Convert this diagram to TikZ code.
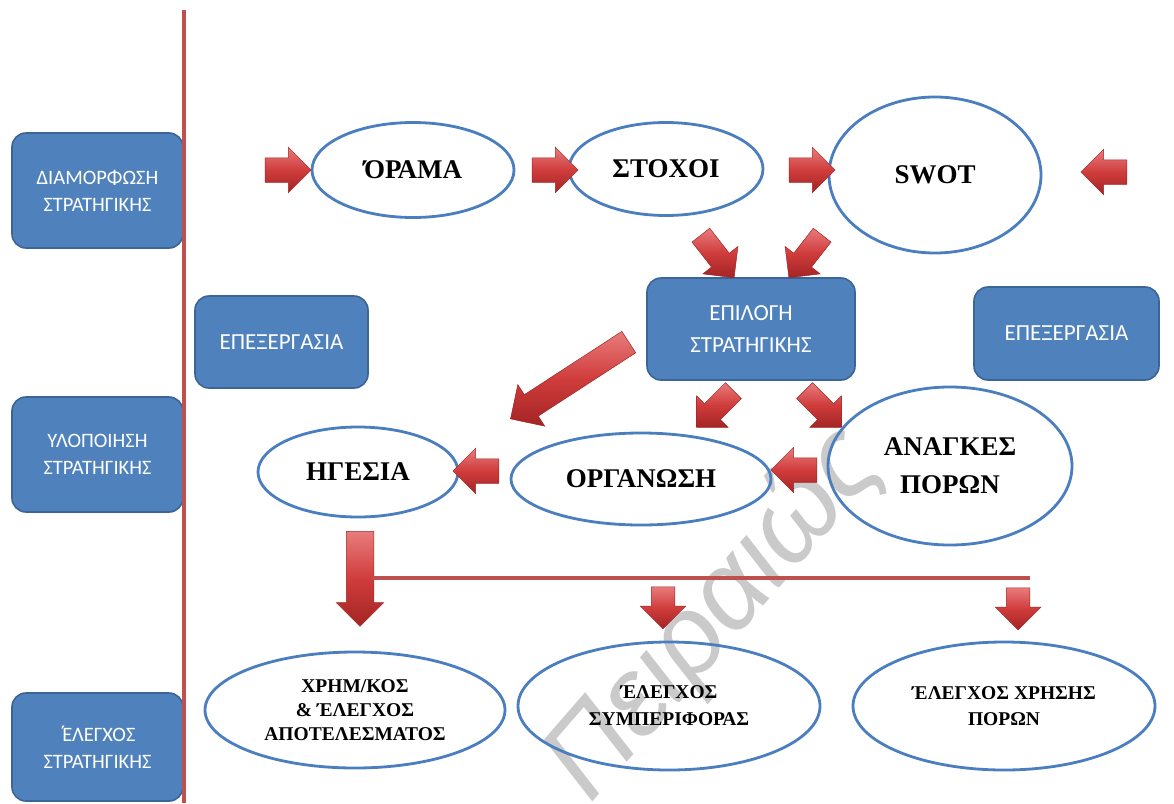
\documentclass[tikz,border=0pt]{standalone}
\usepackage{fontspec}
\setmainfont{Liberation Serif}
\newfontfamily\boxfont{Carlito}
\newfontfamily\tonosfont{Liberation Sans}
\usetikzlibrary{shapes.arrows,shapes.geometric}
\definecolor{boxblue}{HTML}{4F81BD}
\definecolor{boxedge}{HTML}{3B6497}
\definecolor{ellblue}{HTML}{4A7EBF}
\definecolor{redline}{HTML}{C0504D}
\definecolor{arrowhi}{HTML}{E87C7C}
\definecolor{arrowmid}{HTML}{D03C3C}
\definecolor{arrowlo}{HTML}{A32424}
\definecolor{wmgray}{HTML}{CACACA}
\begin{document}
\begin{tikzpicture}[x=1pt,y=-1pt,
  bluebox/.style={draw=boxedge, line width=1.6pt, fill=boxblue, rounded corners=14pt,
    text=white, align=center, inner sep=0pt},
  sidefont/.style={font=\boxfont\fontsize{20.5}{27}\selectfont},
  midfont/.style={font=\boxfont\fontsize{23}{32}\selectfont},
  oval/.style={ellipse, draw=ellblue, line width=2.8pt, inner sep=0pt, align=center},
  bigtext/.style={font=\bfseries\fontsize{27}{38}\selectfont},
  smalltext/.style={font=\bfseries\fontsize{19.5}{24}\selectfont},
  barrow/.style={single arrow, draw=arrowlo, line width=0.5pt, inner xsep=0pt,
    top color=arrowhi, bottom color=arrowlo, middle color=arrowmid},
  shortarrow/.style={barrow, minimum height=46pt, inner ysep=12pt, single arrow head extend=10.5pt},
  diagarrow/.style={barrow, minimum height=54pt, inner ysep=11pt, single arrow head extend=11pt},
  droparrow/.style={barrow, inner ysep=11.5pt, single arrow head extend=11pt},
  redrule/.style={draw=redline, line width=4.5pt},
  wm/.style={text=wmgray, font=\tonosfont\itshape\fontsize{112}{112}\selectfont, inner sep=0pt}
]
\useasboundingbox (0,0) rectangle (1174,803);

% watermark behind everything
\node[wm, rotate=49] (wm) at (715,615) {Πειραιώς};

% stage labels on the left
\node[bluebox, sidefont, minimum width=171pt, minimum height=115pt] (s1) at (97.5,190.5) {ΔΙΑΜΟΡΦΩΣΗ\\ΣΤΡΑΤΗΓΙΚΗΣ};
\node[bluebox, sidefont, minimum width=171pt, minimum height=115pt] (s2) at (97.5,454.5) {ΥΛΟΠΟΙΗΣΗ\\ΣΤΡΑΤΗΓΙΚΗΣ};
\node[bluebox, sidefont, minimum width=171pt, minimum height=108pt] (s3) at (97.5,747) {{\tonosfont\char"0384}\kern-4pt ΕΛΕΓΧΟΣ\\ΣΤΡΑΤΗΓΙΚΗΣ};

% separator
\coordinate (vtop) at (184,10);
\coordinate (vbot) at (184,803);
\draw[draw=redline, line width=4pt] (vtop) -- (vbot);

% processing boxes
\node[bluebox, midfont, minimum width=173pt, minimum height=92pt] (p1) at (281.5,342) {ΕΠΕΞΕΡΓΑΣΙΑ};
\node[bluebox, midfont, minimum width=208pt, minimum height=102pt] (sel) at (751,329) {ΕΠΙΛΟΓΗ\\ΣΤΡΑΤΗΓΙΚΗΣ};
\node[bluebox, midfont, minimum width=185pt, minimum height=93pt] (p2) at (1066.5,333.5) {ΕΠΕΞΕΡΓΑΣΙΑ};

% formulation row
\node[oval, bigtext, minimum width=202pt, minimum height=95pt] (orama) at (413,170) {ΌΡΑΜΑ};
\node[oval, bigtext, minimum width=194pt, minimum height=93pt] (stoxoi) at (666,169) {ΣΤΟΧΟΙ};
\node[oval, bigtext, minimum width=212pt, minimum height=156pt] (swot) at (935,175) {SWOT};

% implementation row
\node[oval, bigtext, minimum width=200pt, minimum height=90pt] (hgesia) at (358,472) {ΗΓΕΣΙΑ};
\node[oval, bigtext, minimum width=260pt, minimum height=92pt] (organ) at (641,479) {ΟΡΓΑΝΩΣΗ};
\node[oval, bigtext, minimum width=244pt, minimum height=158pt] (needs) at (950,466) {ΑΝΑΓΚΕΣ\\ΠΟΡΩΝ};

% control row
\node[oval, smalltext, minimum width=300pt, minimum height=116pt] (c1) at (355,710) {ΧΡΗΜ/ΚΟΣ\\\& ΈΛΕΓΧΟΣ\\ΑΠΟΤΕΛΕΣΜΑΤΟΣ};
\node[oval, smalltext, minimum width=302pt, minimum height=128pt, font=\bfseries\fontsize{19.5}{27}\selectfont] (c2) at (669,706) {ΈΛΕΓΧΟΣ\\ΣΥΜΠΕΡΙΦΟΡΑΣ};
\node[oval, smalltext, minimum width=302pt, minimum height=128pt, font=\bfseries\fontsize{19.5}{26}\selectfont] (c3) at (1004,706) {ΈΛΕΓΧΟΣ ΧΡΗΣΗΣ\\ΠΟΡΩΝ};

% block arrows of the formulation row
\node[shortarrow] (a1) at (282,170) {};
\node[shortarrow] (a2) at (549,170) {};
\node[shortarrow] (a3) at (806,170) {};
\node[shortarrow, rotate=180] (a4) at (1110,172) {};

% into the strategy choice
\node[diagarrow, rotate=-52] (a5) at (714,252) {};
\node[diagarrow, rotate=-128] (a6) at (809,252) {};

% out of the strategy choice
\node[barrow, minimum height=141pt, inner ysep=12.5pt, single arrow head extend=12pt, rotate=-147] (a7) at (575,377) {};
\node[diagarrow, minimum height=52pt, rotate=-135] (a8) at (719,405) {};
\node[diagarrow, minimum height=52pt, rotate=-45] (a9) at (819,405) {};

% implementation row arrows
\node[shortarrow, rotate=180] (a10) at (482,471) {};
\node[shortarrow, rotate=180] (a11) at (800,470) {};

% branching down to the controls
\node[droparrow, minimum height=95pt, inner ysep=13.5pt, single arrow head extend=10pt, rotate=-90] (a12) at (360,572) {};
\coordinate (bl) at (372,578);
\coordinate (br) at (1030,578);
\draw[redrule] (bl) -- (br);
\node[droparrow, minimum height=42pt, rotate=-90] (a13) at (663,602) {};
\node[droparrow, minimum height=42pt, rotate=-90] (a14) at (1018,603) {};
\end{tikzpicture}
\end{document}
